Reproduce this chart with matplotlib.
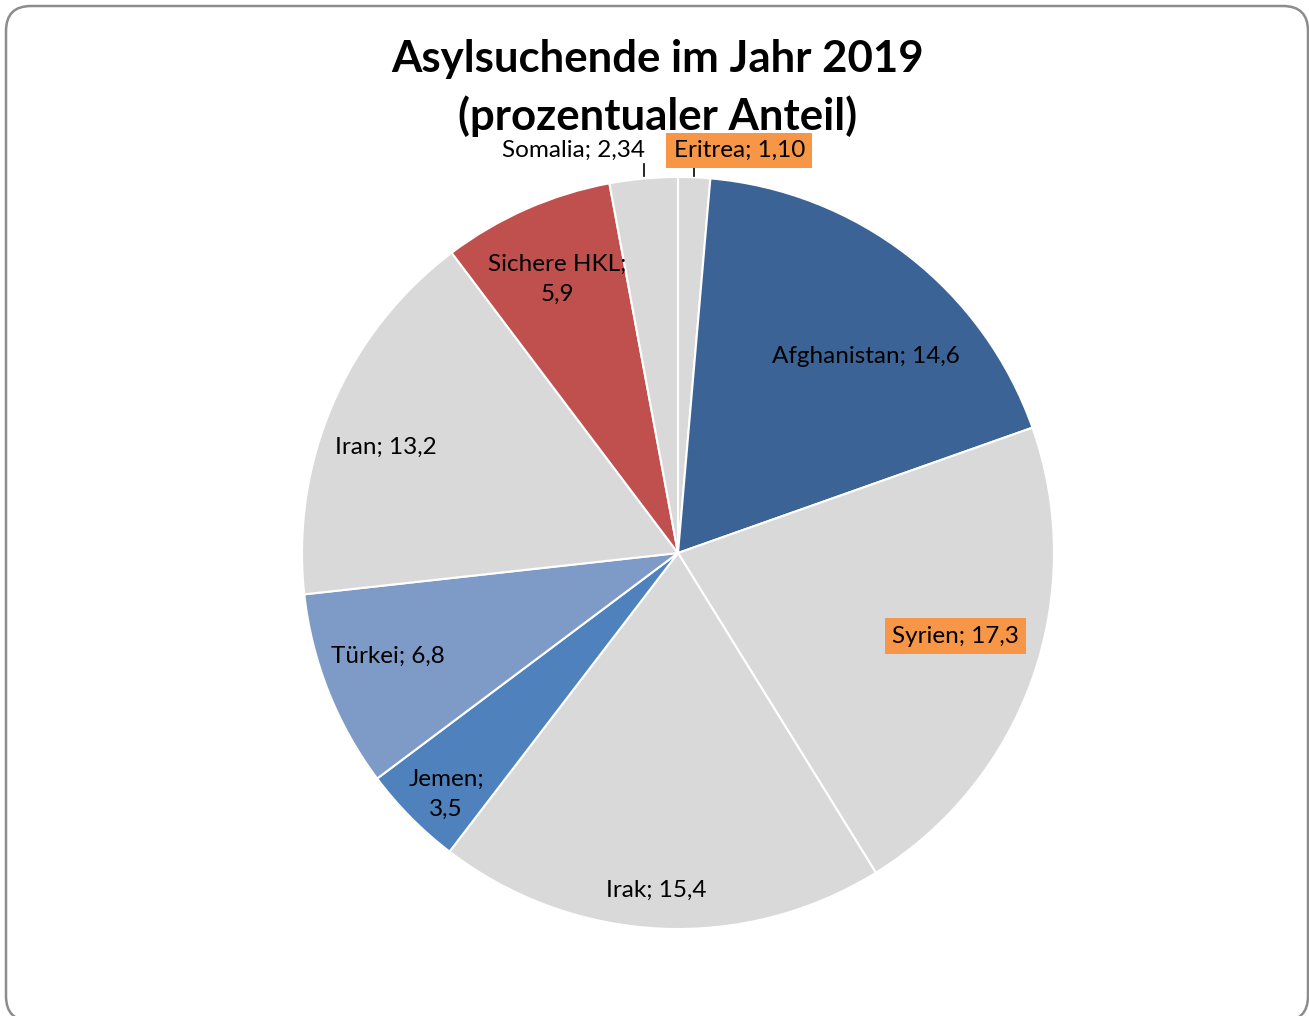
import matplotlib.pyplot as plt
import numpy as np
from matplotlib.patches import FancyBboxPatch

plt.rcParams['font.family'] = ['Lato', 'DejaVu Sans']

countries = ['Eritrea', 'Afghanistan', 'Syrien', 'Irak', 'Jemen', 'Türkei', 'Iran', 'Sichere HKL', 'Somalia']
values = [1.10, 14.6, 17.3, 15.4, 3.5, 6.8, 13.2, 5.9, 2.34]
value_text = ['1,10', '14,6', '17,3', '15,4', '3,5', '6,8', '13,2', '5,9', '2,34']
colors = ['#D9D9D9', '#3B6395', '#D9D9D9', '#D9D9D9', '#4F81BD', '#7E9BC8', '#D9D9D9', '#C0504D', '#D9D9D9']

# label placement: radial distance (1 = rim), None -> outside with leader line
label_r = [None, 0.723, 0.77, 0.90, 0.89, 0.82, 0.825, 0.795, None]
label_shift = [0, 6, -2.7, 0.8, -1.4, 2, -3.5, 0, 0]
label_box = [True, False, True, False, False, False, False, False, False]
two_lines = ['Jemen', 'Sichere HKL']

fig = plt.figure(figsize=(13.09, 10.16), dpi=100)

# frame
frame = FancyBboxPatch((0.06, -0.05), 13.02, 10.15, boxstyle='round,pad=0,rounding_size=0.25',
                       transform=fig.dpi_scale_trans, facecolor='none', edgecolor='#8C8C8C',
                       linewidth=1.8, zorder=0)
fig.patches.append(frame)

R_px = 376
cx, cy = 678, 1016 - 553
half = 1.5 * R_px
ax = fig.add_axes([(cx - half) / 1309, (cy - half) / 1016, 2 * half / 1309, 2 * half / 1016])

wedges, _ = ax.pie(values, colors=colors, startangle=90, counterclock=False, radius=1.0,
                   wedgeprops=dict(edgecolor='white', linewidth=1.5))
ax.set_xlim(-1.5, 1.5)
ax.set_ylim(-1.5, 1.5)
ax.axis('off')

for w, name, vt, r, sh, box in zip(wedges, countries, value_text, label_r, label_shift, label_box):
    mid = np.deg2rad((w.theta1 + w.theta2) / 2 - sh)
    if name in two_lines:
        txt = f'{name};\n{vt}'
    else:
        txt = f'{name}; {vt}'
    bbox = dict(boxstyle='square,pad=0.3', facecolor='#F79646', edgecolor='none') if box else None
    if r is None:
        x0, y0 = np.cos(mid), np.sin(mid)
        ax.plot([x0, x0], [1.003, 1.035], color='black', linewidth=1.2)
        dx = 0.12 if x0 > 0 else -0.185
        ax.text(x0 + dx, 1.07, txt, ha='center', va='center', fontsize=17.5, bbox=bbox)
    else:
        ax.text(r * np.cos(mid), r * np.sin(mid), txt, ha='center', va='center', fontsize=17.5,
                bbox=bbox, linespacing=1.5)

fig.text(658 / 1309, 1 - 88 / 1016, 'Asylsuchende im Jahr 2019\n(prozentualer Anteil)',
         ha='center', va='center', fontsize=31.5, fontweight='bold', linespacing=1.5)

fig.savefig('out.png', dpi=100)
